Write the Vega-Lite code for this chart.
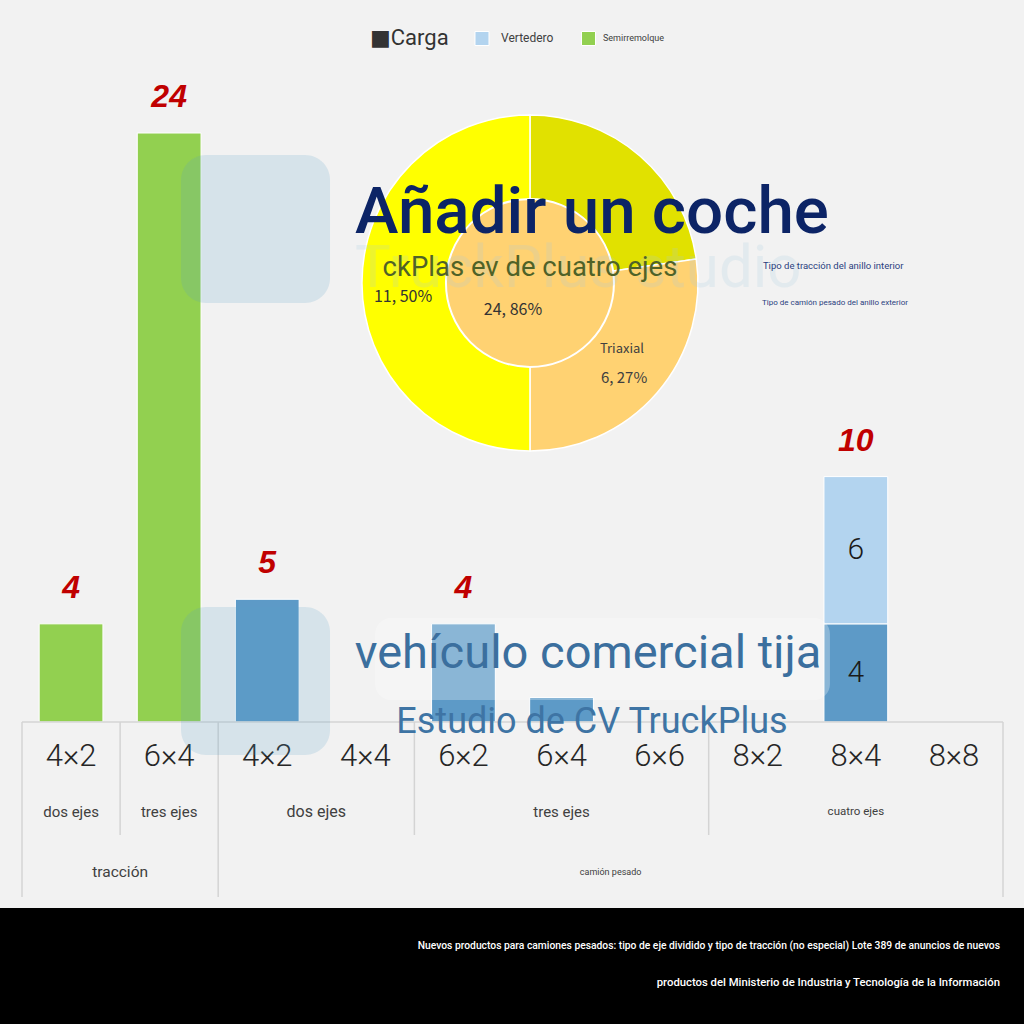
{
  "$schema": "https://vega.github.io/schema/vega-lite/v6.json",
  "width": 1024,
  "height": 1024,
  "padding": 0,
  "autosize": {"type": "none"},
  "background": "#f2f2f2",
  "config": {"view": {"stroke": null}, "font": "Roboto", "text": {"font": "Roboto"}},
  "datasets": {
    "bars": [
      {"col": "c1", "tipo": "Semirremolque", "v": 4},
      {"col": "c2", "tipo": "Semirremolque", "v": 24},
      {"col": "c3", "tipo": "Carga", "v": 5},
      {"col": "c5", "tipo": "Carga", "v": 4},
      {"col": "c6", "tipo": "Carga", "v": 1},
      {"col": "c9", "tipo": "Carga", "v": 4},
      {"col": "c9", "tipo": "Vertedero", "v": 6}
    ],
    "cols": [
      {"col": "c1", "eje": "4×2"},
      {"col": "c2", "eje": "6×4"},
      {"col": "c3", "eje": "4×2"},
      {"col": "c4", "eje": "4×4"},
      {"col": "c5", "eje": "6×2"},
      {"col": "c6", "eje": "6×4"},
      {"col": "c7", "eje": "6×6"},
      {"col": "c8", "eje": "8×2"},
      {"col": "c9", "eje": "8×4"},
      {"col": "c10", "eje": "8×8"}
    ],
    "exterior": [
      {"seg": "Biaxial", "v": 5, "i": 1},
      {"seg": "Triaxial", "v": 6, "i": 2},
      {"seg": "Cuatro ejes", "v": 11, "i": 3}
    ],
    "interior": [
      {"seg": "6×4", "v": 24}
    ],
    "one": [{}]
  },
  "layer": [
    {
      "layer": [
        {
          "data": {"name": "bars"},
          "mark": {"type": "bar", "width": {"band": 0.65}, "stroke": "white", "strokeWidth": 1},
          "encoding": {
            "x": {"field": "col", "type": "nominal", "scale": {"domain": ["c1","c2","c3","c4","c5","c6","c7","c8","c9","c10"], "range": [22, 1003], "paddingInner": 0, "paddingOuter": 0}, "axis": null},
            "y": {"field": "v", "type": "quantitative", "stack": "zero", "scale": {"domain": [0, 24], "range": [722, 133], "nice": false, "zero": false}, "axis": null},
            "color": {"field": "tipo", "type": "nominal", "scale": {"domain": ["Carga", "Vertedero", "Semirremolque"], "range": ["#5d9ac7", "#b3d4ef", "#92d050"]}, "legend": null},
            "order": {"field": "tipo", "sort": "ascending"}
          }
        },
        {
          "data": {"name": "bars"},
          "transform": [
            {"aggregate": [{"op": "sum", "field": "v", "as": "total"}], "groupby": ["col"]},
            {"filter": "datum.total > 1"}
          ],
          "mark": {"type": "text", "font": "Liberation Sans", "fontSize": 32, "fontStyle": "italic", "fontWeight": "bold", "color": "#c00000", "baseline": "middle", "dy": -36},
          "encoding": {
            "x": {"field": "col", "type": "nominal", "scale": {"domain": ["c1","c2","c3","c4","c5","c6","c7","c8","c9","c10"], "range": [22, 1003], "paddingInner": 0, "paddingOuter": 0}, "axis": null},
            "y": {"field": "total", "type": "quantitative", "scale": {"domain": [0, 24], "range": [722, 133], "nice": false, "zero": false}, "axis": null},
            "text": {"field": "total", "type": "quantitative"}
          }
        },
        {
          "data": {"name": "bars"},
          "transform": [
            {"filter": "datum.col == 'c9'"},
            {"stack": "v", "groupby": ["col"], "sort": [{"field": "tipo", "order": "ascending"}], "as": ["y0", "y1"]},
            {"calculate": "(datum.y0 + datum.y1) / 2", "as": "mid"}
          ],
          "mark": {"type": "text", "fontSize": 30, "fontWeight": 300, "color": "#1a1a1a", "baseline": "middle"},
          "encoding": {
            "x": {"field": "col", "type": "nominal", "scale": {"domain": ["c1","c2","c3","c4","c5","c6","c7","c8","c9","c10"], "range": [22, 1003], "paddingInner": 0, "paddingOuter": 0}, "axis": null},
            "y": {"field": "mid", "type": "quantitative", "scale": {"domain": [0, 24], "range": [722, 133], "nice": false, "zero": false}, "axis": null},
            "text": {"field": "v", "type": "quantitative"}
          }
        },
        {
          "data": {"name": "cols"},
          "mark": {"type": "text", "fontSize": 31, "fontWeight": 300, "color": "#262626", "baseline": "middle"},
          "encoding": {
            "x": {"field": "col", "type": "nominal", "scale": {"domain": ["c1","c2","c3","c4","c5","c6","c7","c8","c9","c10"], "range": [22, 1003], "paddingInner": 0, "paddingOuter": 0}, "axis": null},
            "y": {"datum": -1.426, "type": "quantitative", "scale": {"domain": [0, 24], "range": [722, 133], "nice": false, "zero": false}, "axis": null},
            "text": {"field": "eje", "type": "nominal"}
          }
        },
        {
          "data": {"values": [{"col": "c1"}, {"col": "c3"}]},
          "mark": {"type": "rule", "color": "#d4d4d4", "strokeWidth": 1.5},
          "encoding": {
            "x": {"field": "col", "type": "nominal", "bandPosition": 0, "scale": {"domain": ["c1","c2","c3","c4","c5","c6","c7","c8","c9","c10"], "range": [22, 1003], "paddingInner": 0, "paddingOuter": 0}, "axis": null},
            "y": {"datum": 0, "type": "quantitative", "scale": {"domain": [0, 24], "range": [722, 133], "nice": false, "zero": false}, "axis": null},
            "y2": {"datum": -7.131}
          }
        },
        {
          "data": {"values": [{"col": "c2"}, {"col": "c5"}, {"col": "c8"}]},
          "mark": {"type": "rule", "color": "#d4d4d4", "strokeWidth": 1.5},
          "encoding": {
            "x": {"field": "col", "type": "nominal", "bandPosition": 0, "scale": {"domain": ["c1","c2","c3","c4","c5","c6","c7","c8","c9","c10"], "range": [22, 1003], "paddingInner": 0, "paddingOuter": 0}, "axis": null},
            "y": {"datum": 0, "type": "quantitative", "scale": {"domain": [0, 24], "range": [722, 133], "nice": false, "zero": false}, "axis": null},
            "y2": {"datum": -4.604}
          }
        },
        {
          "data": {"values": [{"col": "c10"}]},
          "mark": {"type": "rule", "color": "#d4d4d4", "strokeWidth": 1.5},
          "encoding": {
            "x": {"field": "col", "type": "nominal", "bandPosition": 1, "scale": {"domain": ["c1","c2","c3","c4","c5","c6","c7","c8","c9","c10"], "range": [22, 1003], "paddingInner": 0, "paddingOuter": 0}, "axis": null},
            "y": {"datum": 0, "type": "quantitative", "scale": {"domain": [0, 24], "range": [722, 133], "nice": false, "zero": false}, "axis": null},
            "y2": {"datum": -7.131}
          }
        },
        {
          "data": {"values": [{"col": "c1", "t": "dos ejes"}, {"col": "c2", "t": "tres ejes"}, {"col": "c6", "t": "tres ejes"}]},
          "mark": {"type": "text", "fontSize": 15, "color": "#404040", "baseline": "middle"},
          "encoding": {
            "x": {"field": "col", "type": "nominal", "scale": {"domain": ["c1","c2","c3","c4","c5","c6","c7","c8","c9","c10"], "range": [22, 1003], "paddingInner": 0, "paddingOuter": 0}, "axis": null},
            "y": {"datum": -3.667, "type": "quantitative", "scale": {"domain": [0, 24], "range": [722, 133], "nice": false, "zero": false}, "axis": null},
            "text": {"field": "t", "type": "nominal"}
          }
        },
        {
          "data": {"values": [{"col": "c3", "t": "dos ejes"}]},
          "mark": {"type": "text", "fontSize": 16, "color": "#404040", "baseline": "middle"},
          "encoding": {
            "x": {"field": "col", "type": "nominal", "bandPosition": 1, "scale": {"domain": ["c1","c2","c3","c4","c5","c6","c7","c8","c9","c10"], "range": [22, 1003], "paddingInner": 0, "paddingOuter": 0}, "axis": null},
            "y": {"datum": -3.667, "type": "quantitative", "scale": {"domain": [0, 24], "range": [722, 133], "nice": false, "zero": false}, "axis": null},
            "text": {"field": "t", "type": "nominal"}
          }
        },
        {
          "data": {"values": [{"col": "c9", "t": "cuatro ejes"}]},
          "mark": {"type": "text", "fontSize": 11.5, "color": "#404040", "baseline": "middle"},
          "encoding": {
            "x": {"field": "col", "type": "nominal", "scale": {"domain": ["c1","c2","c3","c4","c5","c6","c7","c8","c9","c10"], "range": [22, 1003], "paddingInner": 0, "paddingOuter": 0}, "axis": null},
            "y": {"datum": -3.667, "type": "quantitative", "scale": {"domain": [0, 24], "range": [722, 133], "nice": false, "zero": false}, "axis": null},
            "text": {"field": "t", "type": "nominal"}
          }
        },
        {
          "data": {"values": [{"col": "c1", "t": "tracción"}]},
          "mark": {"type": "text", "fontSize": 15.5, "color": "#404040", "baseline": "middle"},
          "encoding": {
            "x": {"field": "col", "type": "nominal", "bandPosition": 1, "scale": {"domain": ["c1","c2","c3","c4","c5","c6","c7","c8","c9","c10"], "range": [22, 1003], "paddingInner": 0, "paddingOuter": 0}, "axis": null},
            "y": {"datum": -6.112, "type": "quantitative", "scale": {"domain": [0, 24], "range": [722, 133], "nice": false, "zero": false}, "axis": null},
            "text": {"field": "t", "type": "nominal"}
          }
        },
        {
          "data": {"values": [{"col": "c6", "t": "camión pesado"}]},
          "mark": {"type": "text", "fontSize": 9, "color": "#404040", "baseline": "middle"},
          "encoding": {
            "x": {"field": "col", "type": "nominal", "bandPosition": 1, "scale": {"domain": ["c1","c2","c3","c4","c5","c6","c7","c8","c9","c10"], "range": [22, 1003], "paddingInner": 0, "paddingOuter": 0}, "axis": null},
            "y": {"datum": -6.112, "type": "quantitative", "scale": {"domain": [0, 24], "range": [722, 133], "nice": false, "zero": false}, "axis": null},
            "text": {"field": "t", "type": "nominal"}
          }
        }
      ]
    },
    {
      "data": {"name": "one"},
      "resolve": {"scale": {"theta": "independent"}},
      "layer": [
        {
          "mark": {"type": "rect", "color": "#000000"},
          "encoding": {
            "x": {"datum": -0.5, "type": "quantitative", "scale": {"domain": [0, 10], "range": [22, 1003], "nice": false, "zero": false}, "axis": null},
            "x2": {"datum": 10.5},
            "y": {"datum": -7.58, "type": "quantitative", "scale": {"domain": [0, 24], "range": [722, 133], "nice": false, "zero": false}, "axis": null},
            "y2": {"datum": -12.6}
          }
        },
        {
          "mark": {"type": "text", "text": "Nuevos productos para camiones pesados: tipo de eje dividido y tipo de tracción (no especial) Lote 389 de anuncios de nuevos", "fontSize": 10.3, "fontWeight": 500, "color": "#ffffff", "align": "right", "baseline": "middle"},
          "encoding": {
            "x": {"datum": 9.969, "type": "quantitative", "scale": {"domain": [0, 10], "range": [22, 1003], "nice": false, "zero": false}, "axis": null},
            "y": {"datum": -9.127, "type": "quantitative", "scale": {"domain": [0, 24], "range": [722, 133], "nice": false, "zero": false}, "axis": null}
          }
        },
        {
          "mark": {"type": "text", "text": "productos del Ministerio de Industria y Tecnología de la Información", "fontSize": 11.3, "fontWeight": 500, "color": "#ffffff", "align": "right", "baseline": "middle"},
          "encoding": {
            "x": {"datum": 9.969, "type": "quantitative", "scale": {"domain": [0, 10], "range": [22, 1003], "nice": false, "zero": false}, "axis": null},
            "y": {"datum": -10.635, "type": "quantitative", "scale": {"domain": [0, 24], "range": [722, 133], "nice": false, "zero": false}, "axis": null}
          }
        },
        {
          "mark": {"type": "rule", "color": "#d4d4d4", "strokeWidth": 1.5},
          "encoding": {
            "x": {"datum": 0, "type": "quantitative", "scale": {"domain": [0, 10], "range": [22, 1003], "nice": false, "zero": false}, "axis": null},
            "x2": {"datum": 10},
            "y": {"datum": 0, "type": "quantitative", "scale": {"domain": [0, 24], "range": [722, 133], "nice": false, "zero": false}, "axis": null}
          }
        },
        {
          "mark": {"type": "rect", "color": "#5a9ec8", "opacity": 0.18, "cornerRadius": 25},
          "encoding": {
            "x": {"datum": 1.621, "type": "quantitative", "scale": {"domain": [0, 10], "range": [22, 1003], "nice": false, "zero": false}, "axis": null},
            "x2": {"datum": 3.14},
            "y": {"datum": 23.103, "type": "quantitative", "scale": {"domain": [0, 24], "range": [722, 133], "nice": false, "zero": false}, "axis": null},
            "y2": {"datum": 17.073}
          }
        },
        {
          "mark": {"type": "rect", "color": "#5a9ec8", "opacity": 0.18, "cornerRadius": 25},
          "encoding": {
            "x": {"datum": 1.621, "type": "quantitative", "scale": {"domain": [0, 10], "range": [22, 1003], "nice": false, "zero": false}, "axis": null},
            "x2": {"datum": 3.14},
            "y": {"datum": 4.686, "type": "quantitative", "scale": {"domain": [0, 24], "range": [722, 133], "nice": false, "zero": false}, "axis": null},
            "y2": {"datum": -1.345}
          }
        },
        {
          "mark": {"type": "rect", "color": "#ffffff", "opacity": 0.28, "cornerRadius": 16},
          "encoding": {
            "x": {"datum": 3.6, "type": "quantitative", "scale": {"domain": [0, 10], "range": [22, 1003], "nice": false, "zero": false}, "axis": null},
            "x2": {"datum": 8.236},
            "y": {"datum": 4.238, "type": "quantitative", "scale": {"domain": [0, 24], "range": [722, 133], "nice": false, "zero": false}, "axis": null},
            "y2": {"datum": 0.896}
          }
        },
        {
          "data": {"name": "exterior"},
          "mark": {"type": "arc", "radius": 168, "stroke": "#ffffff", "strokeWidth": 1.5},
          "encoding": {
            "theta": {"field": "v", "type": "quantitative", "stack": true},
            "order": {"field": "i", "sort": "ascending"},
            "fill": {"field": "seg", "type": "nominal", "scale": {"domain": ["Biaxial", "Triaxial", "Cuatro ejes", "6×4"], "range": ["#e1e100", "#ffd272", "#ffff00", "#ffd272"]}, "legend": null},
            "x": {"datum": 5.178, "type": "quantitative", "scale": {"domain": [0, 10], "range": [22, 1003], "nice": false, "zero": false}, "axis": null},
            "y": {"datum": 17.888, "type": "quantitative", "scale": {"domain": [0, 24], "range": [722, 133], "nice": false, "zero": false}, "axis": null}
          }
        },
        {
          "data": {"name": "interior"},
          "mark": {"type": "arc", "radius": 84, "stroke": "#ffffff", "strokeWidth": 2},
          "encoding": {
            "theta": {"field": "v", "type": "quantitative", "stack": true},
            "fill": {"field": "seg", "type": "nominal", "scale": {"domain": ["Biaxial", "Triaxial", "Cuatro ejes", "6×4"], "range": ["#e1e100", "#ffd272", "#ffff00", "#ffd272"]}, "legend": null},
            "x": {"datum": 5.178, "type": "quantitative", "scale": {"domain": [0, 10], "range": [22, 1003], "nice": false, "zero": false}, "axis": null},
            "y": {"datum": 17.888, "type": "quantitative", "scale": {"domain": [0, 24], "range": [722, 133], "nice": false, "zero": false}, "axis": null}
          }
        },
        {
          "mark": {"type": "text", "text": "TruckPlus studio", "fontSize": 60, "color": "#a8cce0", "opacity": 0.2, "align": "left", "baseline": "alphabetic"},
          "encoding": {
            "x": {"datum": 3.395, "type": "quantitative", "scale": {"domain": [0, 10], "range": [22, 1003], "nice": false, "zero": false}, "axis": null},
            "y": {"datum": 17.725, "type": "quantitative", "scale": {"domain": [0, 24], "range": [722, 133], "nice": false, "zero": false}, "axis": null}
          }
        },
        {
          "mark": {"type": "text", "text": "11, 50%", "font": "Noto Sans CJK SC", "fontSize": 16, "color": "#333333", "baseline": "middle"},
          "encoding": {
            "x": {"datum": 3.884, "type": "quantitative", "scale": {"domain": [0, 10], "range": [22, 1003], "nice": false, "zero": false}, "axis": null},
            "y": {"datum": 17.318, "type": "quantitative", "scale": {"domain": [0, 24], "range": [722, 133], "nice": false, "zero": false}, "axis": null}
          }
        },
        {
          "mark": {"type": "text", "text": "24, 86%", "font": "Noto Sans CJK SC", "fontSize": 16, "color": "#333333", "baseline": "middle"},
          "encoding": {
            "x": {"datum": 5.005, "type": "quantitative", "scale": {"domain": [0, 10], "range": [22, 1003], "nice": false, "zero": false}, "axis": null},
            "y": {"datum": 16.788, "type": "quantitative", "scale": {"domain": [0, 24], "range": [722, 133], "nice": false, "zero": false}, "axis": null}
          }
        },
        {
          "mark": {"type": "text", "text": "Triaxial", "font": "Noto Sans CJK SC", "fontSize": 13, "color": "#404040", "baseline": "middle"},
          "encoding": {
            "x": {"datum": 6.116, "type": "quantitative", "scale": {"domain": [0, 10], "range": [22, 1003], "nice": false, "zero": false}, "axis": null},
            "y": {"datum": 15.198, "type": "quantitative", "scale": {"domain": [0, 24], "range": [722, 133], "nice": false, "zero": false}, "axis": null}
          }
        },
        {
          "mark": {"type": "text", "text": "6, 27%", "font": "Noto Sans CJK SC", "fontSize": 15, "color": "#404040", "baseline": "middle"},
          "encoding": {
            "x": {"datum": 6.137, "type": "quantitative", "scale": {"domain": [0, 10], "range": [22, 1003], "nice": false, "zero": false}, "axis": null},
            "y": {"datum": 14.017, "type": "quantitative", "scale": {"domain": [0, 24], "range": [722, 133], "nice": false, "zero": false}, "axis": null}
          }
        },
        {
          "mark": {"type": "text", "text": "ckPlas ev de cuatro ejes", "fontSize": 27.5, "color": "#4f6228", "baseline": "middle"},
          "encoding": {
            "x": {"datum": 5.178, "type": "quantitative", "scale": {"domain": [0, 10], "range": [22, 1003], "nice": false, "zero": false}, "axis": null},
            "y": {"datum": 18.499, "type": "quantitative", "scale": {"domain": [0, 24], "range": [722, 133], "nice": false, "zero": false}, "axis": null}
          }
        },
        {
          "mark": {"type": "text", "text": "Añadir un coche", "fontSize": 65.5, "fontWeight": 500, "color": "#0c2466", "baseline": "alphabetic"},
          "encoding": {
            "x": {"datum": 5.81, "type": "quantitative", "scale": {"domain": [0, 10], "range": [22, 1003], "nice": false, "zero": false}, "axis": null},
            "y": {"datum": 19.925, "type": "quantitative", "scale": {"domain": [0, 24], "range": [722, 133], "nice": false, "zero": false}, "axis": null}
          }
        },
        {
          "mark": {"type": "text", "text": "Tipo de tracción del anillo interior", "fontSize": 9.5, "color": "#2b3f80", "align": "left", "baseline": "middle"},
          "encoding": {
            "x": {"datum": 7.553, "type": "quantitative", "scale": {"domain": [0, 10], "range": [22, 1003], "nice": false, "zero": false}, "axis": null},
            "y": {"datum": 18.581, "type": "quantitative", "scale": {"domain": [0, 24], "range": [722, 133], "nice": false, "zero": false}, "axis": null}
          }
        },
        {
          "mark": {"type": "text", "text": "Tipo de camión pesado del anillo exterior", "fontSize": 8, "color": "#2b3f80", "align": "left", "baseline": "middle"},
          "encoding": {
            "x": {"datum": 7.543, "type": "quantitative", "scale": {"domain": [0, 10], "range": [22, 1003], "nice": false, "zero": false}, "axis": null},
            "y": {"datum": 17.073, "type": "quantitative", "scale": {"domain": [0, 24], "range": [722, 133], "nice": false, "zero": false}, "axis": null}
          }
        },
        {
          "mark": {"type": "text", "text": "vehículo comercial tija", "fontSize": 47, "color": "#3b6f9e", "baseline": "alphabetic"},
          "encoding": {
            "x": {"datum": 5.77, "type": "quantitative", "scale": {"domain": [0, 10], "range": [22, 1003], "nice": false, "zero": false}, "axis": null},
            "y": {"datum": 2.2, "type": "quantitative", "scale": {"domain": [0, 24], "range": [722, 133], "nice": false, "zero": false}, "axis": null}
          }
        },
        {
          "mark": {"type": "text", "text": "Estudio de CV TruckPlus", "fontSize": 36, "color": "#3e74a4", "baseline": "alphabetic"},
          "encoding": {
            "x": {"datum": 5.81, "type": "quantitative", "scale": {"domain": [0, 10], "range": [22, 1003], "nice": false, "zero": false}, "axis": null},
            "y": {"datum": -0.448, "type": "quantitative", "scale": {"domain": [0, 24], "range": [722, 133], "nice": false, "zero": false}, "axis": null}
          }
        },
        {
          "mark": {"type": "text", "text": "■Carga", "font": "Roboto, DejaVu Sans", "fontSize": 22, "color": "#333333", "align": "left", "baseline": "middle"},
          "encoding": {
            "x": {"datum": 3.547, "type": "quantitative", "scale": {"domain": [0, 10], "range": [22, 1003], "nice": false, "zero": false}, "axis": null},
            "y": {"datum": 27.871, "type": "quantitative", "scale": {"domain": [0, 24], "range": [722, 133], "nice": false, "zero": false}, "axis": null}
          }
        },
        {
          "mark": {"type": "point", "shape": "square", "size": 196, "filled": true, "stroke": "#ffffff", "strokeWidth": 1, "opacity": 1},
          "encoding": {
            "x": {"datum": 4.689, "type": "quantitative", "scale": {"domain": [0, 10], "range": [22, 1003], "nice": false, "zero": false}, "axis": null},
            "y": {"datum": 27.851, "type": "quantitative", "scale": {"domain": [0, 24], "range": [722, 133], "nice": false, "zero": false}, "axis": null},
            "color": {"datum": "Vertedero", "type": "nominal", "scale": {"domain": ["Carga", "Vertedero", "Semirremolque"], "range": ["#5d9ac7", "#b3d4ef", "#92d050"]}, "legend": null}
          }
        },
        {
          "mark": {"type": "point", "shape": "square", "size": 196, "filled": true, "stroke": "#ffffff", "strokeWidth": 1, "opacity": 1},
          "encoding": {
            "x": {"datum": 5.775, "type": "quantitative", "scale": {"domain": [0, 10], "range": [22, 1003], "nice": false, "zero": false}, "axis": null},
            "y": {"datum": 27.851, "type": "quantitative", "scale": {"domain": [0, 24], "range": [722, 133], "nice": false, "zero": false}, "axis": null},
            "color": {"datum": "Semirremolque", "type": "nominal", "scale": {"domain": ["Carga", "Vertedero", "Semirremolque"], "range": ["#5d9ac7", "#b3d4ef", "#92d050"]}, "legend": null}
          }
        },
        {
          "mark": {"type": "text", "text": "Vertedero", "fontSize": 12, "color": "#404040", "align": "left", "baseline": "middle"},
          "encoding": {
            "x": {"datum": 4.883, "type": "quantitative", "scale": {"domain": [0, 10], "range": [22, 1003], "nice": false, "zero": false}, "axis": null},
            "y": {"datum": 27.871, "type": "quantitative", "scale": {"domain": [0, 24], "range": [722, 133], "nice": false, "zero": false}, "axis": null}
          }
        },
        {
          "mark": {"type": "text", "text": "Semirremolque", "fontSize": 9, "color": "#404040", "align": "left", "baseline": "middle"},
          "encoding": {
            "x": {"datum": 5.922, "type": "quantitative", "scale": {"domain": [0, 10], "range": [22, 1003], "nice": false, "zero": false}, "axis": null},
            "y": {"datum": 27.871, "type": "quantitative", "scale": {"domain": [0, 24], "range": [722, 133], "nice": false, "zero": false}, "axis": null}
          }
        }
      ]
    }
  ],
  "resolve": {"scale": {"x": "independent"}}
}
